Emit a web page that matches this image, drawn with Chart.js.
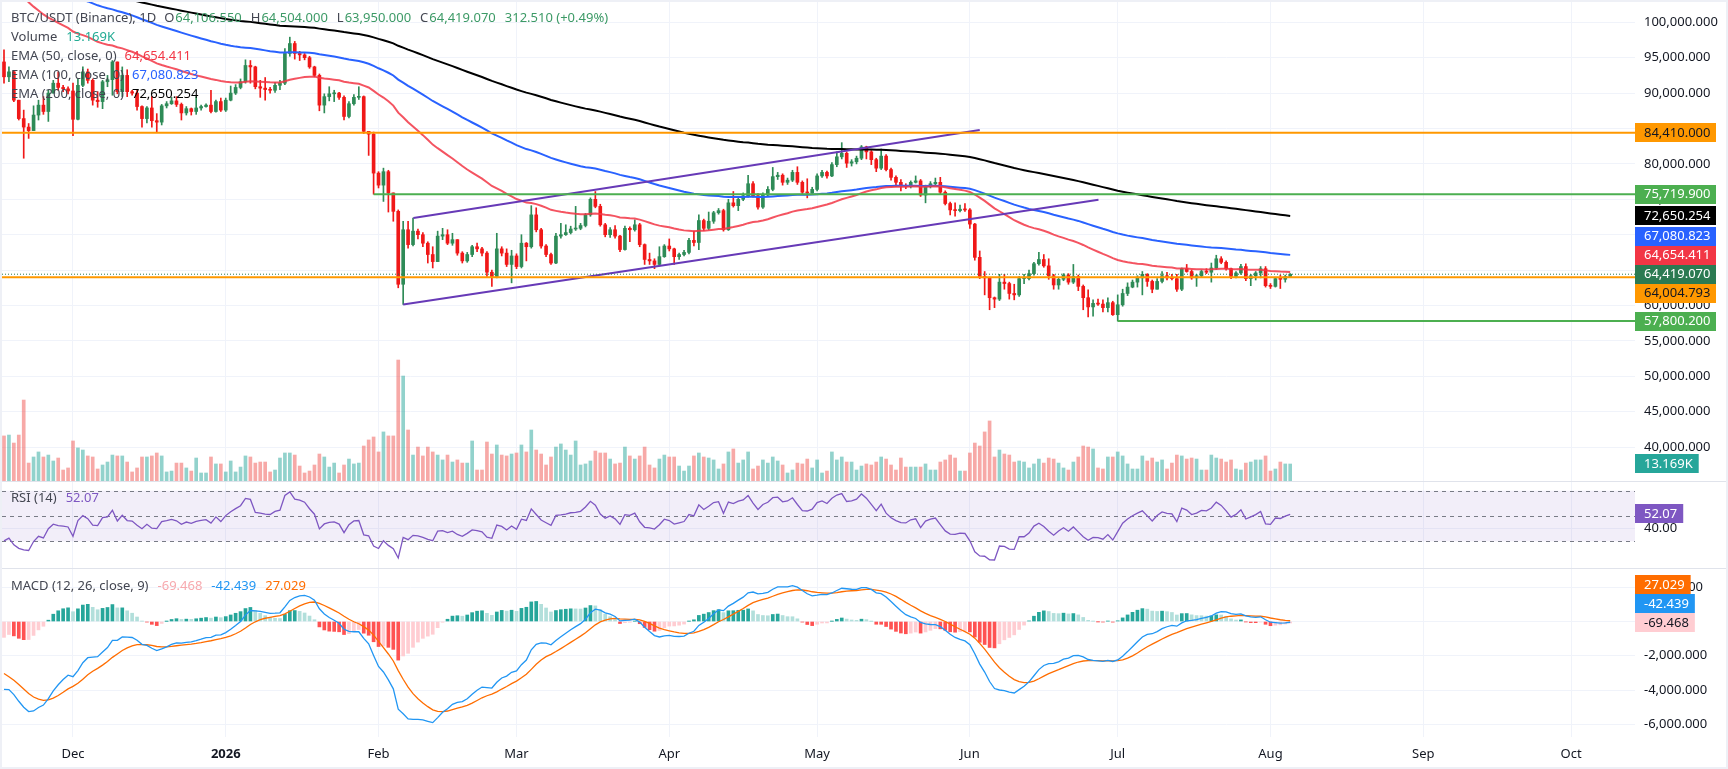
<!DOCTYPE html>
<html>
<head>
<meta charset="utf-8">
<title>BTC/USDT 1D</title>
<script src="https://cdn.jsdelivr.net/npm/chart.js@4.4.1/dist/chart.umd.min.js"></script>
<style>
  html, body { margin: 0; padding: 0; background: #eef0f6; }
  #frame { position: absolute; left: 0; top: 0; width: 1728px; height: 769px; background: #eef0f6; overflow: hidden; }
  .pane { position: absolute; left: 2px; width: 1724px; background: #fff; }
  .sep { position: absolute; left: 2px; width: 1724px; height: 1px; background: #e0e3eb; }
</style>
</head>
<body>
<div id="frame">
  <div class="pane" style="top:2px;height:479px"><canvas id="mainChart"></canvas></div>
  <div class="sep" style="top:481px"></div>
  <div class="pane" style="top:482px;height:86px"><canvas id="rsiChart"></canvas></div>
  <div class="sep" style="top:568px"></div>
  <div class="pane" style="top:569px;height:198px"><canvas id="macdChart"></canvas></div>
</div>
<script>
// daily candles from 17 Nov 2025, prices in thousands of USDT
var monthTicks = [14, 45, 76, 104, 135, 165, 196, 226, 257, 288, 318];
var monthLabels = ['Dec', '2026', 'Feb', 'Mar', 'Apr', 'May', 'Jun', 'Jul', 'Aug', 'Sep', 'Oct'];
var priceTicks = [40000, 45000, 50000, 55000, 60000, 65000, 70000, 75000, 80000, 85000, 90000, 95000, 100000];
var rsiTicks = [40];
var macdTicks = [2000, 0, -2000, -4000, -6000];

var firstOpen = 94.4;
var closes = [
  92.3, 93.0, 89.0, 86.4, 85.2, 84.7, 86.9, 88.3, 87.4, 90.0,
  91.4, 90.8, 90.6, 90.3, 86.3, 91.1, 93.0, 91.8, 89.0, 88.8,
  91.6, 91.9, 94.4, 90.2, 92.5, 90.2, 90.0, 88.1, 86.4, 87.9,
  86.1, 85.9, 88.2, 88.5, 88.9, 88.4, 87.2, 87.8, 87.4, 87.9,
  88.1, 88.3, 87.4, 88.8, 87.6, 89.0, 90.0, 90.8, 91.6, 93.9,
  93.7, 90.9, 90.7, 90.5, 90.4, 91.1, 91.4, 95.6, 97.0, 95.6,
  95.4, 95.0, 93.7, 92.5, 88.3, 89.5, 89.9, 90.0, 89.4, 86.7,
  88.5, 89.4, 89.5, 84.6, 84.2, 78.7, 77.0, 78.9, 75.9, 73.3,
  63.0, 70.7, 68.6, 70.5, 70.0, 68.8, 67.2, 66.2, 69.8, 70.0,
  68.8, 69.3, 67.4, 66.3, 67.2, 68.3, 68.0, 67.4, 64.7, 64.1,
  68.0, 67.4, 65.8, 67.0, 65.5, 68.8, 68.3, 72.8, 70.7, 68.4,
  67.2, 66.0, 69.8, 70.0, 70.3, 70.8, 70.9, 71.3, 72.8, 75.0,
  74.0, 71.4, 70.0, 70.7, 69.8, 67.9, 70.9, 70.7, 71.4, 68.6,
  66.5, 66.3, 65.8, 66.9, 68.4, 68.0, 66.9, 67.2, 67.5, 69.2,
  68.9, 72.0, 70.9, 71.9, 73.1, 73.4, 70.7, 74.5, 74.1, 75.0,
  75.5, 77.2, 75.5, 73.9, 75.6, 76.4, 78.2, 78.4, 77.4, 77.7,
  78.8, 77.4, 76.0, 75.9, 76.4, 78.3, 78.8, 78.3, 79.9, 81.0,
  81.5, 80.1, 80.3, 80.8, 82.4, 81.7, 80.6, 79.4, 81.1, 79.2,
  78.1, 77.4, 76.9, 76.8, 77.4, 77.6, 75.6, 76.8, 77.2, 77.4,
  76.0, 74.4, 73.5, 73.4, 73.6, 73.5, 71.5, 66.8, 64.1, 63.9,
  61.1, 60.9, 63.3, 63.1, 61.7, 61.5, 63.8, 63.8, 64.5, 65.9,
  66.5, 65.6, 64.2, 62.9, 63.7, 64.3, 63.3, 64.1, 62.7, 61.1,
  59.8, 60.3, 60.2, 59.7, 60.4, 58.7, 60.1, 61.7, 62.6, 63.3,
  63.9, 64.4, 63.4, 62.3, 63.4, 64.2, 63.9, 63.8, 62.3, 65.2,
  64.8, 63.9, 64.2, 64.8, 64.7, 65.3, 66.6, 66.1, 65.2, 64.1,
  64.6, 65.5, 63.8, 64.2, 64.6, 65.2, 62.8, 62.7, 63.8, 63.7,
  64.10655, 64.41907
];
var highs = [
  96.1, 93.7, 93.2, 89.0, 87.6, 85.7, 88.2, 89.0, 89.5, 90.4,
  91.8, 93.0, 91.1, 90.9, 91.4, 92.0, 93.7, 93.4, 92.0, 90.2,
  91.8, 92.5, 94.6, 94.0, 93.7, 93.3, 90.4, 90.4, 88.2, 88.1,
  89.5, 87.1, 88.4, 88.8, 89.4, 89.5, 88.6, 88.1, 87.9, 89.5,
  88.3, 88.5, 90.4, 89.0, 89.3, 89.3, 91.0, 91.2, 92.0, 94.7,
  94.6, 93.8, 91.8, 92.2, 90.8, 91.5, 91.8, 96.3, 97.9, 97.3,
  95.9, 95.6, 95.2, 93.8, 92.7, 89.9, 90.9, 90.4, 90.1, 89.6,
  88.8, 89.8, 90.9, 89.6, 84.6, 84.5, 78.9, 79.4, 79.1, 75.9,
  73.5, 71.9, 71.9, 72.35, 70.8, 70.3, 69.0, 68.3, 70.5, 70.9,
  70.7, 70.2, 69.3, 67.6, 67.5, 68.5, 68.8, 68.2, 67.6, 65.0,
  70.2, 68.3, 68.0, 67.8, 67.3, 70.0, 68.9, 74.1, 73.8, 70.9,
  68.6, 67.4, 70.2, 71.6, 71.4, 71.2, 74.0, 71.6, 73.0, 75.2,
  76.1, 74.3, 71.6, 71.0, 71.3, 69.9, 71.2, 71.1, 72.1, 71.6,
  68.7, 67.4, 66.6, 68.3, 68.6, 69.4, 68.1, 67.4, 67.8, 69.5,
  70.5, 72.8, 72.2, 73.2, 73.3, 73.7, 73.6, 75.0, 76.1, 75.3,
  75.9, 78.4, 77.5, 75.8, 75.9, 76.8, 79.5, 78.8, 78.6, 78.0,
  79.1, 79.6, 77.6, 77.9, 76.7, 78.6, 79.1, 79.0, 80.2, 81.7,
  83.0, 81.7, 80.6, 81.1, 82.6, 82.5, 81.9, 80.8, 82.1, 81.3,
  79.4, 78.3, 77.8, 77.2, 77.6, 78.3, 77.8, 77.0, 77.5, 78.0,
  78.1, 76.2, 74.6, 74.5, 74.2, 74.4, 73.7, 71.6, 67.7, 64.8,
  64.0, 61.2, 64.4, 64.4, 63.3, 63.0, 64.1, 64.4, 65.0, 66.1,
  67.5, 67.2, 66.6, 64.4, 64.0, 64.5, 64.5, 65.8, 64.3, 62.9,
  62.2, 60.8, 60.9, 60.8, 61.1, 60.6, 61.5, 62.3, 63.2, 63.6,
  64.2, 64.8, 64.5, 63.6, 63.8, 64.8, 64.7, 64.4, 64.4, 65.3,
  65.8, 65.0, 64.4, 65.0, 65.2, 66.0, 67.1, 66.9, 66.3, 65.3,
  64.8, 65.8, 65.9, 64.4, 64.8, 65.5, 65.5, 63.1, 64.0, 64.3,
  64.3, 64.504
];
var lows = [
  91.4, 91.6, 88.8, 86.2, 80.8, 83.6, 84.7, 86.2, 87.0, 86.0,
  90.0, 90.4, 90.2, 89.9, 84.0, 86.2, 90.9, 91.4, 88.3, 88.0,
  87.8, 90.9, 89.7, 89.9, 89.5, 89.5, 89.7, 87.6, 85.2, 85.8,
  85.2, 84.5, 85.5, 87.9, 88.4, 88.1, 86.2, 86.9, 86.9, 87.0,
  87.6, 88.0, 87.2, 87.3, 87.4, 87.4, 88.9, 89.8, 90.6, 91.4,
  91.4, 90.6, 89.4, 89.0, 90.0, 90.1, 90.5, 91.2, 95.2, 94.8,
  94.6, 94.7, 93.5, 92.3, 87.5, 87.2, 88.9, 88.8, 89.1, 86.2,
  86.5, 88.3, 89.1, 84.3, 81.2, 75.72, 76.6, 74.7, 73.2, 71.9,
  62.5, 60.14, 68.1, 68.4, 69.4, 68.3, 66.0, 65.3, 66.2, 69.3,
  68.6, 68.5, 67.1, 66.0, 66.1, 66.9, 67.6, 67.0, 64.1, 62.7,
  63.9, 67.0, 65.5, 63.2, 65.2, 65.3, 66.3, 68.1, 70.4, 68.1,
  66.9, 65.8, 65.9, 69.5, 69.9, 70.1, 70.6, 70.7, 71.1, 72.6,
  73.8, 71.2, 69.7, 69.6, 69.5, 67.6, 67.8, 69.0, 70.5, 68.3,
  65.8, 65.8, 65.2, 65.6, 66.8, 67.7, 65.8, 66.5, 67.0, 67.3,
  68.4, 67.9, 70.6, 70.7, 71.6, 72.9, 70.5, 70.6, 73.9, 73.4,
  74.8, 75.3, 75.3, 73.6, 73.7, 75.4, 76.2, 77.8, 77.0, 77.1,
  77.5, 77.1, 75.7, 75.2, 75.7, 76.2, 78.1, 78.0, 78.2, 79.6,
  80.7, 79.5, 79.7, 80.0, 80.6, 80.7, 79.9, 78.9, 79.2, 79.0,
  77.7, 76.8, 76.2, 76.5, 76.6, 77.3, 75.4, 74.5, 76.6, 77.0,
  75.8, 74.2, 72.8, 72.6, 73.2, 73.3, 70.9, 66.4, 63.8, 61.5,
  59.4, 59.7, 60.7, 62.3, 60.9, 60.8, 61.3, 63.1, 63.6, 64.3,
  65.7, 65.4, 63.7, 62.3, 62.3, 63.5, 63.0, 63.1, 62.1, 59.4,
  58.4, 58.5, 60.0, 59.1, 59.1, 58.6, 57.8002, 59.9, 61.4, 62.5,
  62.6, 61.5, 62.7, 61.8, 62.3, 63.2, 63.6, 63.6, 62.0, 62.1,
  64.7, 63.7, 62.7, 64.0, 64.5, 63.3, 65.1, 65.9, 65.0, 63.8,
  63.9, 64.4, 63.5, 62.8, 63.6, 63.9, 62.6, 62.4, 62.6, 62.4,
  63.3, 63.95
];
// volume in thousands of BTC
var volumes = [
  34.9, 35.6, 29.4, 35.6, 62.7, 13.9, 18.6, 22.5, 18.6, 20.1,
  15.5, 17.8, 8.5, 10.1, 31.0, 25.6, 24.0, 19.4, 18.6, 9.3,
  12.4, 14.7, 20.1, 19.4, 19.4, 14.7, 7.0, 10.1, 18.6, 18.6,
  19.4, 21.7, 19.4, 7.0, 7.7, 13.9, 13.9, 10.1, 7.7, 17.8,
  6.2, 6.2, 18.6, 13.2, 13.2, 7.0, 15.5, 7.0, 10.8, 19.4,
  18.6, 13.9, 14.7, 14.7, 7.0, 8.5, 17.8, 21.7, 21.7, 20.1,
  11.6, 6.2, 7.7, 12.4, 20.9, 18.6, 10.8, 13.9, 6.2, 12.4,
  17.0, 13.2, 13.9, 27.1, 31.8, 34.1, 22.5, 38.0, 34.9, 34.9,
  93.7, 81.3, 39.5, 20.1, 26.3, 19.4, 26.3, 22.5, 20.1, 16.3,
  20.1, 14.7, 16.3, 13.9, 13.9, 31.0, 8.5, 8.5, 30.2, 20.9,
  27.9, 20.1, 19.4, 20.9, 21.7, 27.9, 22.5, 39.5, 24.0, 20.9,
  12.4, 18.6, 26.3, 28.7, 24.0, 20.1, 31.0, 12.4, 13.2, 15.5,
  23.2, 21.7, 21.7, 17.0, 13.2, 13.9, 26.3, 19.4, 17.0, 19.4,
  26.3, 12.4, 10.1, 17.0, 20.1, 18.6, 18.6, 11.6, 7.7, 11.6,
  19.4, 21.7, 18.6, 17.8, 16.3, 9.3, 13.2, 22.5, 24.8, 13.9,
  16.3, 22.5, 9.3, 11.6, 16.3, 13.9, 18.6, 15.5, 12.4, 6.2,
  8.5, 13.9, 13.2, 17.0, 10.1, 16.3, 6.2, 7.7, 22.5, 16.3,
  18.6, 14.7, 14.7, 8.5, 11.6, 13.2, 12.4, 14.7, 18.6, 17.0,
  12.4, 8.5, 17.8, 10.8, 10.8, 10.8, 10.8, 13.2, 8.5, 8.5,
  14.7, 16.3, 20.1, 17.8, 7.7, 7.7, 21.7, 29.4, 27.1, 38.0,
  46.5, 18.6, 24.0, 20.9, 20.1, 14.7, 15.5, 14.7, 10.1, 13.2,
  17.0, 13.9, 17.8, 17.0, 13.9, 10.1, 8.5, 14.7, 18.6, 27.1,
  26.3, 24.8, 10.1, 9.3, 18.6, 18.6, 22.5, 19.4, 13.2, 9.3,
  9.3, 19.4, 15.5, 17.8, 14.7, 16.3, 9.3, 13.9, 20.1, 19.4,
  17.0, 17.8, 17.0, 8.5, 8.5, 20.1, 17.8, 17.0, 14.7, 16.3,
  9.3, 8.5, 13.9, 14.7, 16.3, 16.3, 19.4, 7.7, 9.3, 14.7,
  13.2, 13.169
];

// indicator state just before the first visible candle
var ema50Seed = 106.8, ema100Seed = 108.8, ema200Seed = 107.2;
var ema12Seed = 97.8, ema26Seed = 101.6, signalSeed = -2.8;
var rsiGainSeed = 0.5, rsiLossSeed = 1.15;

// drawings
var levelValues = [84410, 75719.9, 64004.793, 57800.2];
var levelStarts = [null, 75, null, 226];
var channelUpper = [[83.06, 72350], [198, 84790]];
var channelLower = [[81, 60140], [222.1, 74930]];
var lastPrice = 64419.07;

// ---- styles / layout ----
var font = 'Noto Sans';
var textColor = '#131722';
var legendColor = '#434651';
var gridColor = '#f0f3fa';
var upColor = '#2e8b57', downColor = '#f01818';
var volUp = 'rgba(38,166,154,0.5)', volDown = 'rgba(239,83,80,0.5)';
var axisWidth = 91;
var xMin = -0.406, xMax = 330.97;

Chart.defaults.font.family = font;
Chart.defaults.font.size = 13;
Chart.defaults.color = textColor;

function fmt(v, d) {
  return v.toLocaleString('en-US', { minimumFractionDigits: d, maximumFractionDigits: d });
}

function emaSeries(values, period, seed) {
  var k = 2 / (period + 1), e = seed;
  return values.map(function(v) { e = e + k * (v - e); return e; });
}

function rsiSeries(values, g, l) {
  var out = [100 - 100 / (1 + g / l)];
  for (var i = 1; i < values.length; i++) {
    var d = values[i] - values[i - 1];
    g = (g * 13 + Math.max(d, 0)) / 14;
    l = (l * 13 + Math.max(-d, 0)) / 14;
    out.push(100 - 100 / (1 + g / l));
  }
  return out;
}

var opens = closes.map(function(c, i) { return i === 0 ? firstOpen : closes[i - 1]; });
var isUp = closes.map(function(c, i) { return c >= opens[i]; });
var candleColors = isUp.map(function(u) { return u ? upColor : downColor; });

var ema50 = emaSeries(closes, 50, ema50Seed);
var ema100 = emaSeries(closes, 100, ema100Seed);
var ema200 = emaSeries(closes, 200, ema200Seed);
var ema12 = emaSeries(closes, 12, ema12Seed);
var ema26 = emaSeries(closes, 26, ema26Seed);
var macd = ema12.map(function(v, i) { return (v - ema26[i]) * 1000; });
var signal = emaSeries(macd.map(function(v) { return v / 1000; }), 9, signalSeed).map(function(v) { return v * 1000; });
var hist = macd.map(function(v, i) { return v - signal[i]; });
var rsi = rsiSeries(closes, rsiGainSeed, rsiLossSeed);

function pts(arr, mul) {
  return arr.map(function(v, i) { return { x: i, y: v * (mul || 1) }; });
}

function lineSet(data, color, width, order, dash) {
  return {
    type: 'line', data: data, borderColor: color, borderWidth: width,
    borderDash: dash || [], pointRadius: 0, fill: false, tension: 0, order: order, yAxisID: 'y'
  };
}

function timeAxis(withLabels) {
  return {
    type: 'linear', min: xMin, max: xMax, offset: false,
    grid: { color: gridColor, drawTicks: false, offset: false },
    border: { display: false },
    afterBuildTicks: function(s) { s.ticks = monthTicks.map(function(v) { return { value: v }; }); },
    ticks: {
      display: withLabels, autoSkip: false, maxRotation: 0, padding: 9, color: textColor,
      font: function(c) { return { family: font, size: 13, weight: c.index === 1 ? 'bold' : 'normal' }; },
      callback: function(v) { return monthLabels[monthTicks.indexOf(v)]; }
    },
    afterFit: function(s) {
      s.height = withLabels ? 30 : 0;
      s.paddingLeft = 0; s.paddingRight = 0;
    }
  };
}

function valueAxis(min, max, ticks, digits) {
  return {
    position: 'right', min: min, max: max,
    grid: { color: gridColor, drawTicks: false },
    border: { display: false },
    afterBuildTicks: function(s) { s.ticks = ticks.map(function(v) { return { value: v }; }); },
    ticks: { padding: 9, color: textColor, callback: function(v) { return fmt(v, digits); } },
    afterFit: function(s) {
      s.width = axisWidth;
      // keep the plot flush with the pane edges
      s.paddingTop = 0; s.paddingBottom = 0;
    }
  };
}

// price tags on the right scale, stacked around an anchor tag
function drawTags(chart, scale, tags, fixedWidth) {
  var ctx = chart.ctx, x = chart.chartArea.right, h = 19;
  var items = tags.map(function(t) { return Object.assign({ y: scale.getPixelForValue(t.value) }, t); });
  items.sort(function(a, b) { return a.y - b.y; });
  var a = items.findIndex(function(t) { return t.anchor; });
  if (a < 0) a = 0;
  for (var i = a - 1; i >= 0; i--) items[i].y = Math.min(items[i].y, items[i + 1].y - h);
  for (var j = a + 1; j < items.length; j++) items[j].y = Math.max(items[j].y, items[j - 1].y + h);
  ctx.save();
  ctx.font = '13px "' + font + '"';
  ctx.textBaseline = 'middle';
  ctx.textAlign = 'left';
  items.forEach(function(t) {
    var w = fixedWidth || ctx.measureText(t.text).width + 15;
    ctx.fillStyle = t.bg;
    ctx.fillRect(x, Math.round(t.y - h / 2), w, h);
    ctx.fillStyle = t.fg;
    ctx.fillText(t.text, x + 9, t.y + 0.5);
  });
  ctx.restore();
}

// legend rows: each part is [text, colour, gap before it]
function drawLegend(chart, rows) {
  var ctx = chart.ctx;
  ctx.save();
  ctx.font = '13px "' + font + '"';
  ctx.textBaseline = 'middle';
  ctx.textAlign = 'left';
  rows.forEach(function(r) {
    var x = 9;
    r.parts.forEach(function(p) {
      x += p[2];
      ctx.fillStyle = p[1];
      ctx.fillText(p[0], x, r.y);
      x += ctx.measureText(p[0]).width;
    });
  });
  ctx.restore();
}

var baseOptions = {
  responsive: true, maintainAspectRatio: false, animation: false, events: [],
  layout: { padding: 0 },
  plugins: { legend: { display: false }, tooltip: { enabled: false } }
};

// ---------- main pane ----------
var levelColors = ['#ff9800', '#4caf50', '#ff9800', '#4caf50'];
var mainDatasets = [
  {
    type: 'bar', yAxisID: 'vol', order: 10, grouped: false, barThickness: 3,
    data: pts(volumes), backgroundColor: isUp.map(function(u) { return u ? volUp : volDown; })
  },
  {
    type: 'bar', yAxisID: 'y', order: 9, grouped: false, barThickness: 1,
    data: closes.map(function(c, i) {
      return { x: i, y: [Math.min(lows[i], opens[i], c) * 1000, Math.max(highs[i], opens[i], c) * 1000] };
    }),
    backgroundColor: candleColors
  },
  {
    type: 'bar', yAxisID: 'y', order: 8, grouped: false, barThickness: 3, minBarLength: 1,
    data: closes.map(function(c, i) { return { x: i, y: [opens[i] * 1000, c * 1000] }; }),
    backgroundColor: candleColors
  },
  lineSet(pts(ema200, 1000), '#000000', 2, 7),
  lineSet(pts(ema100, 1000), '#2962ff', 2, 6),
  lineSet(pts(ema50, 1000), 'rgba(242,54,69,0.85)', 2, 5),
  lineSet(channelUpper.map(function(p) { return { x: p[0], y: p[1] }; }), '#673ab7', 2, 4),
  lineSet(channelLower.map(function(p) { return { x: p[0], y: p[1] }; }), '#673ab7', 2, 4)
];
levelValues.forEach(function(v, i) {
  var s = levelStarts[i] === null ? xMin : levelStarts[i];
  mainDatasets.push(lineSet([{ x: s, y: v }, { x: xMax, y: v }], levelColors[i], 2, 3));
});
mainDatasets.push(lineSet([{ x: xMin, y: lastPrice }, { x: xMax, y: lastPrice }], '#2b7a52', 1, 1, [1, 2]));

var mainOverlay = {
  id: 'mainOverlay',
  afterDraw: function(chart) {
    var g = '#3c9a66', t = legendColor;
    drawLegend(chart, [
      { y: 16, parts: [
        ['BTC/USDT (Binance), 1D', t, 0],
        ['O', t, 8], ['64,106.550', g, 1],
        ['H', t, 9], ['64,504.000', g, 1],
        ['L', t, 9], ['63,950.000', g, 1],
        ['C', t, 9], ['64,419.070', g, 1],
        ['312.510 (+0.49%)', g, 9]
      ] },
      { y: 35, parts: [['Volume', t, 0], ['13.169K', '#22ab94', 9]] },
      { y: 54, parts: [['EMA (50, close, 0)', t, 0], ['64,654.411', '#f23645', 8]] },
      { y: 73, parts: [['EMA (100, close, 0)', t, 0], ['67,080.823', '#2962ff', 8]] },
      { y: 92, parts: [['EMA (200, close, 0)', t, 0], ['72,650.254', '#000000', 8]] }
    ]);
    drawTags(chart, chart.scales.y, [
      { value: 84410, text: '84,410.000', bg: '#ff9800', fg: '#131722' },
      { value: 75719.9, text: '75,719.900', bg: '#4caf50', fg: '#ffffff' },
      { value: 72650.254, text: '72,650.254', bg: '#000000', fg: '#ffffff' },
      { value: 67080.823, text: '67,080.823', bg: '#2962ff', fg: '#ffffff' },
      { value: 64654.411, text: '64,654.411', bg: '#f23645', fg: '#ffffff' },
      { value: lastPrice, text: '64,419.070', bg: '#2b7a52', fg: '#ffffff', anchor: true },
      { value: 64004.793, text: '64,004.793', bg: '#ff9800', fg: '#131722' },
      { value: 57800.2, text: '57,800.200', bg: '#4caf50', fg: '#ffffff' }
    ], 81);
    drawTags(chart, chart.scales.vol, [
      { value: volumes[volumes.length - 1], text: '13.169K', bg: '#26a69a', fg: '#ffffff', anchor: true }
    ]);
  }
};

new Chart(document.getElementById('mainChart'), {
  type: 'bar',
  data: { datasets: mainDatasets },
  options: Object.assign({}, baseOptions, {
    scales: {
      x: timeAxis(false),
      y: valueAxis(35212, 102867, priceTicks, 3),
      vol: { display: false, min: 0, max: 371 }
    }
  }),
  plugins: [mainOverlay]
});

// ---------- RSI pane ----------
var rsiBand = {
  id: 'rsiBand',
  beforeDatasetsDraw: function(chart) {
    var ctx = chart.ctx, a = chart.chartArea, y = chart.scales.y;
    ctx.save();
    ctx.fillStyle = 'rgba(126,87,194,0.1)';
    ctx.fillRect(a.left, y.getPixelForValue(70), a.right - a.left, y.getPixelForValue(30) - y.getPixelForValue(70));
    ctx.strokeStyle = '#787b86';
    ctx.lineWidth = 1;
    ctx.setLineDash([4, 4]);
    [70, 50, 30].forEach(function(v) {
      var py = Math.round(y.getPixelForValue(v)) + 0.5;
      ctx.beginPath(); ctx.moveTo(a.left, py); ctx.lineTo(a.right, py); ctx.stroke();
    });
    ctx.restore();
  },
  afterDraw: function(chart) {
    drawLegend(chart, [{ y: 16, parts: [['RSI (14)', legendColor, 0], ['52.07', '#7e57c2', 9]] }]);
    drawTags(chart, chart.scales.y, [{ value: 52.07, text: '52.07', bg: '#7e57c2', fg: '#ffffff', anchor: true }]);
  }
};

new Chart(document.getElementById('rsiChart'), {
  type: 'line',
  data: { datasets: [lineSet(pts(rsi), '#7e57c2', 1.3, 1)] },
  options: Object.assign({}, baseOptions, {
    scales: { x: timeAxis(false), y: valueAxis(8.89, 76.88, rsiTicks, 2) }
  }),
  plugins: [rsiBand]
});

// ---------- MACD pane ----------
var histColors = hist.map(function(h, i) {
  var p = i ? hist[i - 1] : h;
  if (h >= 0) return h >= p ? '#26a69a' : '#b2dfdb';
  return h < p ? '#ff5252' : '#ffcdd2';
});

var macdOverlay = {
  id: 'macdOverlay',
  afterDraw: function(chart) {
    drawLegend(chart, [{ y: 17, parts: [
      ['MACD (12, 26, close, 9)', legendColor, 0],
      ['-69.468', '#f7a9ae', 9],
      ['-42.439', '#2196f3', 9],
      ['27.029', '#ff6d00', 9]
    ] }]);
    drawTags(chart, chart.scales.y, [
      { value: 27.029, text: '27.029', bg: '#ff6d00', fg: '#ffffff' },
      { value: -42.439, text: '-42.439', bg: '#2196f3', fg: '#ffffff' },
      { value: -69.468, text: '-69.468', bg: '#ffcdd2', fg: '#131722', anchor: true }
    ]);
  }
};

new Chart(document.getElementById('macdChart'), {
  type: 'bar',
  data: {
    datasets: [
      { type: 'bar', yAxisID: 'y', order: 3, grouped: false, barThickness: 3, data: pts(hist), backgroundColor: histColors },
      lineSet(pts(signal), '#ff6d00', 1.3, 2),
      lineSet(pts(macd), '#2196f3', 1.3, 1)
    ]
  },
  options: Object.assign({}, baseOptions, {
    scales: { x: timeAxis(true), y: valueAxis(-6743, 3065, macdTicks, 3) }
  }),
  plugins: [macdOverlay]
});
</script>
</body>
</html>
